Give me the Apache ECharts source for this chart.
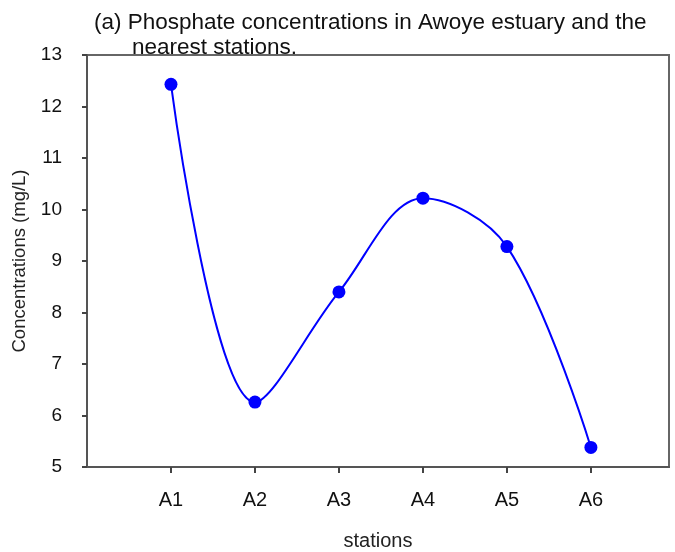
<!DOCTYPE html>
<html>
<head>
<meta charset="utf-8">
<script src="https://cdn.jsdelivr.net/npm/echarts@6/dist/echarts.min.js"></script>
<style>
  html, body { margin: 0; padding: 0; background: #fff; }
  #main { width: 675px; height: 552px; }
</style>
</head>
<body>
<div id="main"></div>
<script>
// stations and phosphate values (mg/L)
var stations = ['A1', 'A2', 'A3', 'A4', 'A5', 'A6'];
var stationPos = [1, 2, 3, 4, 5, 6];
var phosphate = [12.43, 6.26, 8.40, 10.22, 9.28, 5.38];
var yTicks = [5, 6, 7, 8, 9, 10, 11, 12, 13];

var font = 'Liberation Sans, Arial, sans-serif';
var myChart = echarts.init(document.getElementById('main'));

var seriesData = [];
for (var i = 0; i < stations.length; i++) {
  seriesData.push([stationPos[i], phosphate[i]]);
}

var option = {
  animation: false,
  backgroundColor: '#fff',
  title: [{
    text: '(a) Phosphate concentrations in Awoye estuary and the',
    left: 94,
    top: 11,
    padding: 0,
    textStyle: { fontFamily: font, fontSize: 22.5, fontWeight: 'normal', color: '#111' }
  }, {
    text: 'nearest stations.',
    left: 132,
    top: 36,
    padding: 0,
    textStyle: { fontFamily: font, fontSize: 22.5, fontWeight: 'normal', color: '#111' }
  }],
  grid: {
    left: 87,
    right: 6,
    top: 55,
    bottom: 85,
    outerBoundsMode: 'none',
    containLabel: false,
    show: true,
    borderColor: '#666',
    borderWidth: 2
  },
  xAxis: {
    type: 'value',
    min: 0,
    max: 6.93,
    name: 'stations',
    nameLocation: 'middle',
    nameGap: 64,
    nameTextStyle: { fontFamily: font, fontSize: 20, color: '#222' },
    splitLine: { show: false },
    axisLine: { lineStyle: { color: '#555', width: 2 } },
    axisTick: {
      customValues: stationPos,
      length: 6,
      lineStyle: { color: '#444', width: 2 }
    },
    axisLabel: {
      customValues: stationPos,
      margin: 23,
      fontFamily: font,
      fontSize: 20,
      color: '#111',
      formatter: function (value) {
        return stations[stationPos.indexOf(value)] || '';
      }
    }
  },
  yAxis: {
    type: 'value',
    min: 5,
    max: 13,
    interval: 1,
    name: 'Concentrations (mg/L)',
    nameLocation: 'middle',
    nameGap: 58,
    nameTextStyle: { fontFamily: font, fontSize: 18.5, color: '#222' },
    splitLine: { show: false },
    axisLine: { show: true, lineStyle: { color: '#555', width: 2 } },
    axisTick: { show: true, length: 5, lineStyle: { color: '#444', width: 2 } },
    axisLabel: {
      margin: 25,
      fontFamily: font,
      fontSize: 19,
      color: '#111',
      customValues: yTicks
    }
  },
  series: [{
    name: 'Phosphate',
    type: 'line',
    smooth: 0.35,
    symbol: 'circle',
    symbolSize: 13,
    lineStyle: { color: '#0000ff', width: 2 },
    itemStyle: { color: '#0000ff' },
    data: seriesData
  }]
};
myChart.setOption(option);
</script>
</body>
</html>
